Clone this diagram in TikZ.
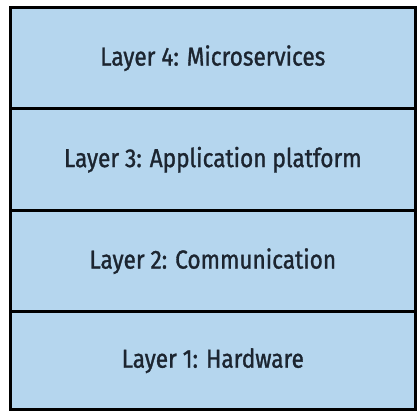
\documentclass[tikz,border=0pt]{standalone}
\usepackage{fontspec}
\setmainfont[FakeStretch=0.87,FakeBold=1.2]{Fira Sans}
\definecolor{layerfill}{HTML}{B5D6EE}
\definecolor{layertext}{HTML}{1C2530}
\begin{document}
\begin{tikzpicture}[x=1pt,y=1pt,
  layer/.style={draw=black,line width=2.6pt,fill=layerfill,minimum width=405pt,
    text=layertext,font=\fontsize{26}{30}\selectfont,inner sep=0pt,anchor=south west}]
\useasboundingbox (0,0) rectangle (420,414);
\fill[white] (0,0) rectangle (420,414);
\node[layer,minimum height=98pt] (l1) at (9,3) {Layer 1: Hardware};
\node[layer,minimum height=101pt] (l2) at (9,101) {Layer 2: Communication};
\node[layer,minimum height=102pt] (l3) at (9,202) {Layer 3: Application platform};
\node[layer,minimum height=101pt] (l4) at (9,304) {Layer 4: Microservices};
\end{tikzpicture}
\end{document}
